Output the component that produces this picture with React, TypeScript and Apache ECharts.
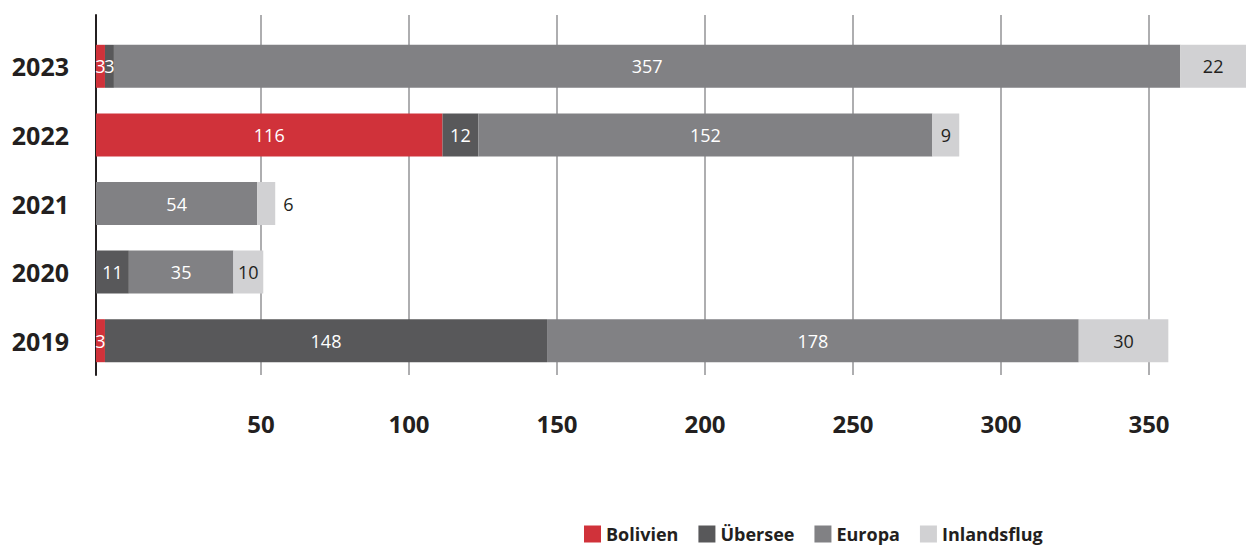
import React, { useEffect, useRef } from "react";
import * as echarts from "echarts";

const years = ["2019", "2020", "2021", "2022", "2023"];
const bolivien = [3, 0, 0, 116, 3];
const uebersee = [148, 11, 0, 12, 3];
const europa = [178, 35, 54, 152, 357];
const inlandsflug = [30, 10, 6, 9, 22];
const seriesNames = ["Bolivien", "Übersee", "Europa", "Inlandsflug"];
const colors = ["#d0323a", "#58585a", "#818184", "#d1d1d3"];
const axisTicks = { min: 0, max: 350, interval: 50 };

const FONT = "'Open Sans', 'Noto Sans', sans-serif";
const TEXT = "#231f20";

export default function App() {
  const ref = useRef<HTMLDivElement>(null);
  useEffect(() => {
    if (!ref.current) return;
    const chart = echarts.init(ref.current, undefined, { renderer: "svg" });
    const allData = [bolivien, uebersee, europa, inlandsflug];
    const series = allData.map((vals, i) => ({
      name: seriesNames[i],
      type: "bar",
      stack: "total",
      xAxisIndex: 0,
      yAxisIndex: 0,
      barWidth: 43,
      itemStyle: { color: colors[i] },
      data: vals.map((v) => {
        const outside = i === 3 && v < 8;
        return {
          value: v,
          label: {
            show: v > 0,
            position: outside ? "right" : "inside",
            distance: outside ? 8 : 5,
            color: i === 3 ? TEXT : "#ffffff",
            fontSize: 18,
            fontFamily: FONT,
          },
        };
      }),
    }));
    chart.setOption({
      animation: false,
      backgroundColor: "#ffffff",
      grid: [
        { left: 96, right: 0, top: 32, height: 343 },
        { left: 113, top: 15, width: 1036, height: 360 },
      ],
      legend: {
        data: seriesNames,
        left: 579,
        top: 520,
        itemWidth: 17,
        itemHeight: 17,
        itemGap: 20,
        icon: "rect",
        textStyle: { fontSize: 18, fontWeight: "bold", fontFamily: FONT, color: TEXT },
      },
      xAxis: [
        { gridIndex: 0, type: "value", min: 0, max: 385, show: false },
        {
          gridIndex: 1,
          type: "value",
          min: axisTicks.min,
          max: axisTicks.max,
          interval: axisTicks.interval,
          axisLine: { show: false },
          axisTick: { show: false },
          axisLabel: {
            showMinLabel: false,
            fontSize: 24,
            fontWeight: "bold",
            fontFamily: FONT,
            color: TEXT,
            margin: 36,
          },
          splitLine: { show: true, showMinLine: false, showMaxLine: true, lineStyle: { color: "#aeaeb0", width: 2 } },
        },
      ],
      yAxis: [
        {
          gridIndex: 0,
          type: "category",
          data: years,
          axisLine: { show: false },
          axisTick: { show: false },
          splitLine: { show: false },
          axisLabel: { fontSize: 25, fontWeight: "bold", fontFamily: FONT, color: TEXT, margin: 27 },
        },
        {
          gridIndex: 1,
          type: "value",
          offset: 17,
          axisLine: { show: true, onZero: false, lineStyle: { color: TEXT, width: 2 } },
          axisTick: { show: false },
          axisLabel: { show: false },
          splitLine: { show: false },
        },
      ],
      series,
    });
    return () => chart.dispose();
  }, []);
  return (
    <div
      ref={ref}
      style={{ position: "fixed", left: 0, top: 0, width: 1246, height: 545, background: "#fff" }}
    />
  );
}
